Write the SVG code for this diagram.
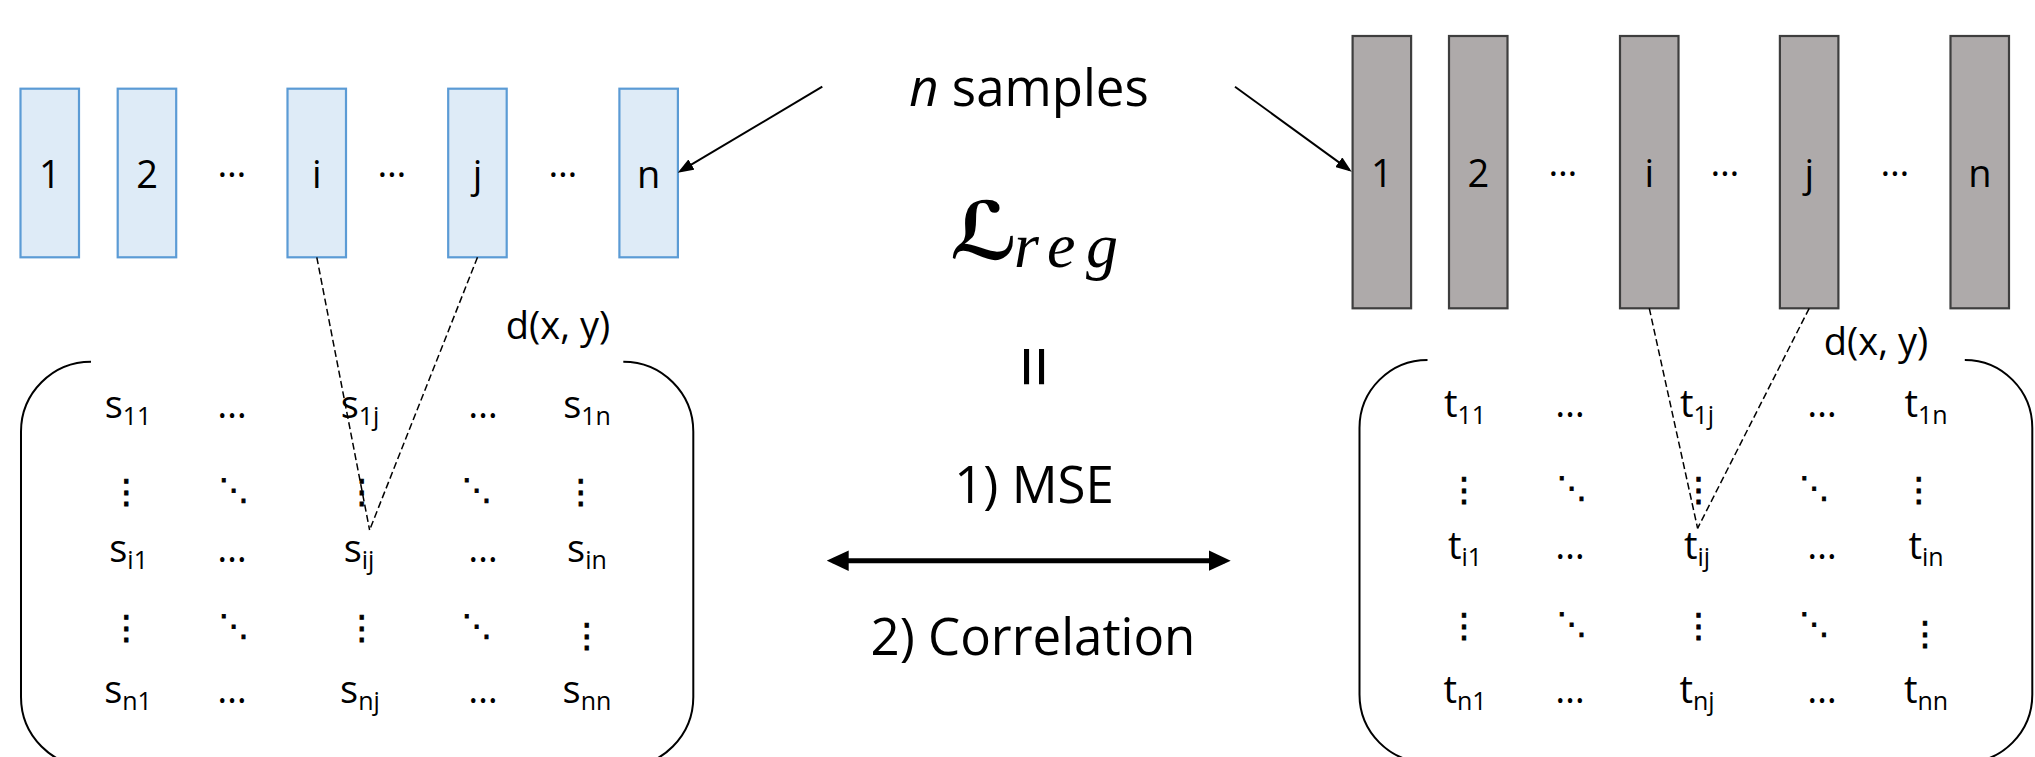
<svg xmlns="http://www.w3.org/2000/svg" width="2035" height="757" viewBox="0 0 2035 757">
  <style>
    text { font-family: "Open Sans", "Noto Sans", sans-serif; fill: #000; }
    .lbl { font-size: 38px; text-anchor: middle; }
    .ell { font-size: 37px; text-anchor: middle; }
    .ent { font-size: 38px; text-anchor: middle; }
    .sub { font-size: 25px; }
    .sym { font-family: "DejaVu Sans", sans-serif; font-size: 33px; text-anchor: middle; stroke: #000; stroke-width: 0.9; }
    .dd { font-family: "DejaVu Sans", sans-serif; font-size: 30px; text-anchor: middle; stroke: #000; stroke-width: 0.9; }
    .big { font-size: 51px; text-anchor: middle; }
    .dist { font-size: 38px; text-anchor: middle; }
    .calL { font-family: "DejaVu Sans", "DejaVu Serif", serif; font-size: 80px; font-weight: bold; }
    .mathit { font-family: "Liberation Serif", serif; font-style: italic; font-size: 64px; }
    .eq { font-size: 77px; text-anchor: middle; }
    .blue { fill: #DEEBF7; stroke: #5B9BD5; stroke-width: 2.2; }
    .gray { fill: #AEAAAA; stroke: #3E3E3E; stroke-width: 2.2; }
    .brk { fill: none; stroke: #000; stroke-width: 2; }
    .dash { fill: none; stroke: #000; stroke-width: 1.5; stroke-dasharray: 7 3.5; }
    .thin { fill: none; stroke: #000; stroke-width: 2; }
    .thick { fill: none; stroke: #000; stroke-width: 5; }
  </style>
  <defs>
    <marker id="head-thin" markerUnits="userSpaceOnUse" markerWidth="16" markerHeight="12" refX="13" refY="6" orient="auto">
      <path d="M0,0 L16,6 L0,12 z" fill="#000"/>
    </marker>
    <marker id="head-thick" markerUnits="userSpaceOnUse" markerWidth="22" markerHeight="21" refX="16" refY="10.3" orient="auto-start-reverse">
      <path d="M0,0 L22,10.3 L0,20.6 z" fill="#000"/>
    </marker>
  </defs>

  <rect width="2035" height="757" fill="#fff"/>

  <!-- student batch: n samples -->
  <g id="student-samples">
    <g id="s-sample-1"><rect class="blue" x="20.5" y="88.7" width="58.5" height="168.6"/><text class="lbl" x="49.8" y="188">1</text></g>
    <g id="s-sample-2"><rect class="blue" x="117.7" y="88.7" width="58.5" height="168.6"/><text class="lbl" x="147" y="188">2</text></g>
    <text class="ell" x="232" y="177">…</text>
    <g id="s-sample-i"><rect class="blue" x="287.5" y="88.7" width="58.5" height="168.6"/><text class="lbl" x="316.8" y="188">i</text></g>
    <text class="ell" x="392" y="177">…</text>
    <g id="s-sample-j"><rect class="blue" x="448.2" y="88.7" width="58.5" height="168.6"/><text class="lbl" x="477.5" y="188">j</text></g>
    <text class="ell" x="563" y="177">…</text>
    <g id="s-sample-n"><rect class="blue" x="619.4" y="88.7" width="58.5" height="168.6"/><text class="lbl" x="648.7" y="188">n</text></g>
  </g>

  <!-- teacher batch: n samples -->
  <g id="teacher-samples">
    <g id="t-sample-1"><rect class="gray" x="1352.6" y="36" width="58.5" height="272.3"/><text class="lbl" x="1381.9" y="187">1</text></g>
    <g id="t-sample-2"><rect class="gray" x="1449" y="36" width="58.5" height="272.3"/><text class="lbl" x="1478.3" y="187">2</text></g>
    <text class="ell" x="1563" y="176">…</text>
    <g id="t-sample-i"><rect class="gray" x="1620" y="36" width="58.5" height="272.3"/><text class="lbl" x="1649.3" y="187">i</text></g>
    <text class="ell" x="1725" y="176">…</text>
    <g id="t-sample-j"><rect class="gray" x="1779.9" y="36" width="58.5" height="272.3"/><text class="lbl" x="1809.2" y="187">j</text></g>
    <text class="ell" x="1895" y="176">…</text>
    <g id="t-sample-n"><rect class="gray" x="1950.5" y="36" width="58.5" height="272.3"/><text class="lbl" x="1979.8" y="187">n</text></g>
  </g>

  <!-- caption shared by both batches -->
  <g id="samples-caption">
    <text class="big" x="1029" y="106"><tspan font-style="italic">n</tspan> samples</text>
  </g>

  <!-- student distance matrix S -->
  <g id="student-matrix">
    <path class="brk" d="M91,361.7 A70,70 0 0 0 21,431.7 L21,697 A70,70 0 0 0 91,767"/>
    <path class="brk" d="M623.3,361.7 A70,70 0 0 1 693.3,431.7 L693.3,697 A70,70 0 0 1 623.3,767"/>
    <text class="dist" x="558" y="339">d(x, y)</text>
    <!-- row 1 -->
    <text class="ent" x="128" y="418">s<tspan class="sub" dy="7">11</tspan></text>
    <text class="ent" x="232" y="418">…</text>
    <text class="ent" x="360" y="418">s<tspan class="sub" dy="7">1j</tspan></text>
    <text class="ent" x="483" y="418">…</text>
    <text class="ent" x="587" y="418">s<tspan class="sub" dy="7">1n</tspan></text>
    <!-- row 2 -->
    <text class="sym" x="126.3" y="503">⋮</text>
    <text class="dd" x="234" y="500">⋱</text>
    <text class="sym" x="361.8" y="503">⋮</text>
    <text class="dd" x="477" y="500">⋱</text>
    <text class="sym" x="580.8" y="503">⋮</text>
    <!-- row 3 -->
    <text class="ent" x="128.6" y="561.7">s<tspan class="sub" dy="7">i1</tspan></text>
    <text class="ent" x="232" y="561.7">…</text>
    <text class="ent" x="359" y="561.7">s<tspan class="sub" dy="7">ij</tspan></text>
    <text class="ent" x="483" y="561.7">…</text>
    <text class="ent" x="587" y="561.7">s<tspan class="sub" dy="7">in</tspan></text>
    <!-- row 4 -->
    <text class="sym" x="126.3" y="639">⋮</text>
    <text class="dd" x="234" y="636">⋱</text>
    <text class="sym" x="361.8" y="639">⋮</text>
    <text class="dd" x="477" y="636">⋱</text>
    <text class="sym" x="586.8" y="647">⋮</text>
    <!-- row 5 -->
    <text class="ent" x="128" y="703.3">s<tspan class="sub" dy="7">n1</tspan></text>
    <text class="ent" x="232" y="703.3">…</text>
    <text class="ent" x="360" y="703.3">s<tspan class="sub" dy="7">nj</tspan></text>
    <text class="ent" x="483" y="703.3">…</text>
    <text class="ent" x="587" y="703.3">s<tspan class="sub" dy="7">nn</tspan></text>
  </g>

  <!-- teacher distance matrix T -->
  <g id="teacher-matrix">
    <path class="brk" d="M1427.5,360 A68,68 0 0 0 1359.5,428 L1359.5,694.5 A68,68 0 0 0 1427.5,762.5"/>
    <path class="brk" d="M1964.8,360 A67.5,68 0 0 1 2032.3,428 L2032.3,694.5 A67.5,68 0 0 1 1964.8,762.5"/>
    <text class="dist" x="1876" y="355">d(x, y)</text>
    <!-- row 1 -->
    <text class="ent" x="1465" y="416.7">t<tspan class="sub" dy="7">11</tspan></text>
    <text class="ent" x="1570" y="416.7">…</text>
    <text class="ent" x="1697" y="416.7">t<tspan class="sub" dy="7">1j</tspan></text>
    <text class="ent" x="1822" y="416.7">…</text>
    <text class="ent" x="1926" y="416.7">t<tspan class="sub" dy="7">1n</tspan></text>
    <!-- row 2 -->
    <text class="sym" x="1464" y="501">⋮</text>
    <text class="dd" x="1572" y="498">⋱</text>
    <text class="sym" x="1698.5" y="501">⋮</text>
    <text class="dd" x="1814.5" y="498">⋱</text>
    <text class="sym" x="1918.8" y="501">⋮</text>
    <!-- row 3 -->
    <text class="ent" x="1465" y="559.3">t<tspan class="sub" dy="7">i1</tspan></text>
    <text class="ent" x="1570" y="559.3">…</text>
    <text class="ent" x="1697" y="559.3">t<tspan class="sub" dy="7">ij</tspan></text>
    <text class="ent" x="1822" y="559.3">…</text>
    <text class="ent" x="1926" y="559.3">t<tspan class="sub" dy="7">in</tspan></text>
    <!-- row 4 -->
    <text class="sym" x="1464" y="637">⋮</text>
    <text class="dd" x="1572" y="634">⋱</text>
    <text class="sym" x="1698.5" y="637">⋮</text>
    <text class="dd" x="1814.5" y="634">⋱</text>
    <text class="sym" x="1925" y="645">⋮</text>
    <!-- row 5 -->
    <text class="ent" x="1465" y="702.7">t<tspan class="sub" dy="7">n1</tspan></text>
    <text class="ent" x="1570" y="702.7">…</text>
    <text class="ent" x="1697" y="702.7">t<tspan class="sub" dy="7">nj</tspan></text>
    <text class="ent" x="1822" y="702.7">…</text>
    <text class="ent" x="1926" y="702.7">t<tspan class="sub" dy="7">nn</tspan></text>
  </g>

  <!-- regularisation loss and its two variants -->
  <g id="loss">
    <text class="calL" x="950" y="259">ℒ</text>
    <text class="mathit" x="1014" y="267" textLength="104" lengthAdjust="spacing">reg</text>
    <text class="eq" transform="translate(1035,366.7) rotate(90)" x="0" y="28">=</text>
    <text class="big" x="1034" y="502.7">1) MSE</text>
    <text class="big" x="1033" y="655">2) Correlation</text>
  </g>

  <!-- connectors -->
  <g id="connectors">
    <line class="thin" x1="822.3" y1="86.7" x2="680.3" y2="171.2" marker-end="url(#head-thin)"/>
    <line class="thin" x1="1235" y1="86.7" x2="1349.3" y2="169.9" marker-end="url(#head-thin)"/>
    <line class="dash" x1="316.8" y1="257.3" x2="369.6" y2="530"/>
    <line class="dash" x1="477.5" y1="257.3" x2="369.6" y2="530"/>
    <line class="dash" x1="1649.3" y1="308.3" x2="1697.6" y2="528.3"/>
    <line class="dash" x1="1809.2" y1="308.3" x2="1697.6" y2="528.3"/>
    <line class="thick" x1="832.7" y1="560.7" x2="1224.7" y2="560.7" marker-start="url(#head-thick)" marker-end="url(#head-thick)"/>
  </g>
</svg>
